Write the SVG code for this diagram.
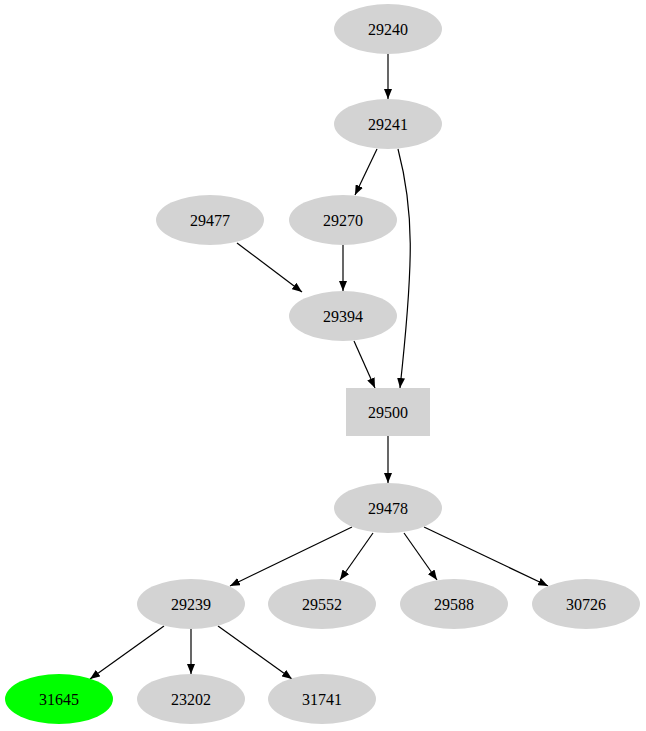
<svg xmlns="http://www.w3.org/2000/svg" width="646" height="731" viewBox="0 0 646 731">
<style>
.n{fill:#d3d3d3;stroke:none}
text{font-family:"Liberation Serif","Times New Roman",serif;font-size:16px;text-anchor:middle;dominant-baseline:central;fill:#000}
.e{fill:none;stroke:#000;stroke-width:1.2}
</style>
<defs><marker id="a" markerWidth="10" markerHeight="8" refX="10" refY="4" orient="auto" markerUnits="userSpaceOnUse"><path d="M0,0L10,4L0,8z" fill="#000"/></marker></defs>
<rect width="646" height="731" fill="#fff"/>
<g id="edges">
<path class="e" marker-end="url(#a)" d="M388,54L388,99"/>
<path class="e" marker-end="url(#a)" d="M377,149L355,195"/>
<path class="e" marker-end="url(#a)" d="M398,149C414,210 414,260 400,388"/>
<path class="e" marker-end="url(#a)" d="M237,243L302,292"/>
<path class="e" marker-end="url(#a)" d="M343,245L343,291"/>
<path class="e" marker-end="url(#a)" d="M354,341L375,388"/>
<path class="e" marker-end="url(#a)" d="M388,436L388,483"/>
<path class="e" marker-end="url(#a)" d="M352,527L230,586"/>
<path class="e" marker-end="url(#a)" d="M373,533L340,580"/>
<path class="e" marker-end="url(#a)" d="M404,533L437,580"/>
<path class="e" marker-end="url(#a)" d="M424,527L548,586"/>
<path class="e" marker-end="url(#a)" d="M164,626L90,679"/>
<path class="e" marker-end="url(#a)" d="M191,629L191,674"/>
<path class="e" marker-end="url(#a)" d="M218,626L292,679"/>
</g>
<g id="n29240"><ellipse class="n" cx="388" cy="29" rx="54" ry="25"/><text x="388" y="29">29240</text></g>
<g id="n29241"><ellipse class="n" cx="388" cy="124" rx="54" ry="25"/><text x="388" y="124">29241</text></g>
<g id="n29477"><ellipse class="n" cx="210" cy="220" rx="54" ry="25"/><text x="210" y="220">29477</text></g>
<g id="n29270"><ellipse class="n" cx="343" cy="220" rx="54" ry="25"/><text x="343" y="220">29270</text></g>
<g id="n29394"><ellipse class="n" cx="343" cy="316" rx="54" ry="25"/><text x="343" y="316">29394</text></g>
<g id="n29500"><rect class="n" x="346" y="388" width="84" height="48"/><text x="388" y="412">29500</text></g>
<g id="n29478"><ellipse class="n" cx="388" cy="508" rx="54" ry="25"/><text x="388" y="508">29478</text></g>
<g id="n29239"><ellipse class="n" cx="191" cy="604" rx="54" ry="25"/><text x="191" y="604">29239</text></g>
<g id="n29552"><ellipse class="n" cx="322" cy="604" rx="54" ry="25"/><text x="322" y="604">29552</text></g>
<g id="n29588"><ellipse class="n" cx="454" cy="604" rx="54" ry="25"/><text x="454" y="604">29588</text></g>
<g id="n30726"><ellipse class="n" cx="586" cy="604" rx="54" ry="25"/><text x="586" y="604">30726</text></g>
<g id="n31645"><ellipse cx="59" cy="699" rx="54" ry="25" fill="#00ff00"/><text x="59" y="699">31645</text></g>
<g id="n23202"><ellipse class="n" cx="191" cy="699" rx="54" ry="25"/><text x="191" y="699">23202</text></g>
<g id="n31741"><ellipse class="n" cx="322" cy="699" rx="54" ry="25"/><text x="322" y="699">31741</text></g>
</svg>
